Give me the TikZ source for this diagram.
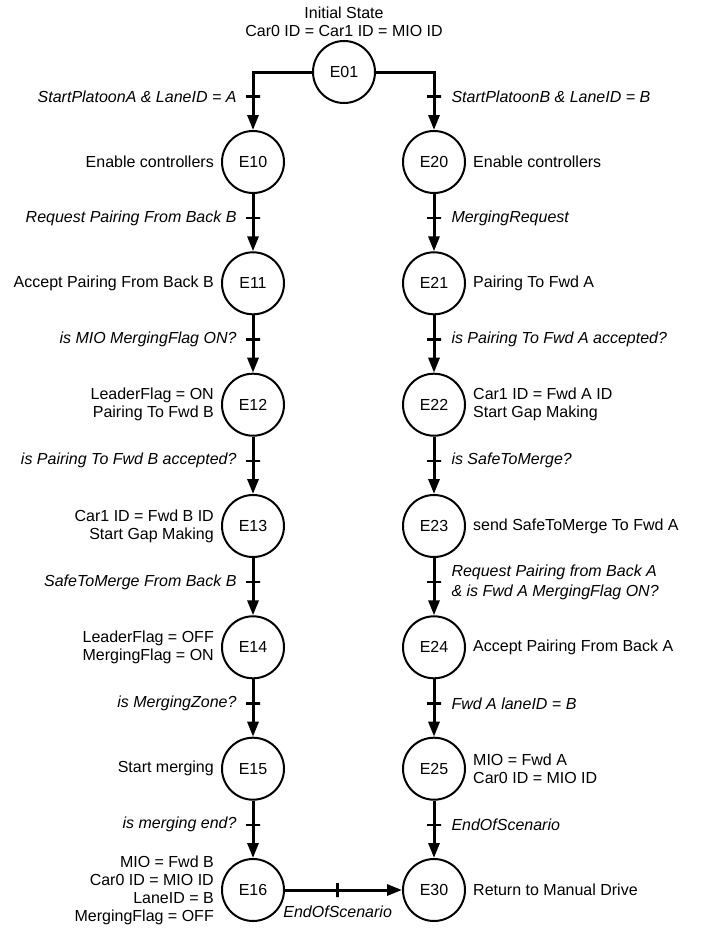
\documentclass[tikz,border=0pt]{standalone}
\usepackage{fontspec}
\setmainfont{Liberation Sans}
\usetikzlibrary{arrows.meta}
\begin{document}
\begin{tikzpicture}[x=1bp,y=-1bp,
  every node/.style={font=\fontsize{16bp}{18bp}\selectfont},
  st/.style={circle,draw,line width=2bp,minimum size=62bp,inner sep=0},
  sl/.style={inner sep=0,align=right},
  sr/.style={inner sep=0,align=left},
  label distance=7bp,
  conn/.style={line width=3bp,-{Triangle[width=11bp,length=15bp]}},
  vtick/.style={draw,line width=2.5bp,minimum width=14bp,minimum height=0pt,inner sep=0,rectangle},
  htick/.style={draw,line width=2.5bp,minimum width=0pt,minimum height=14bp,inner sep=0,rectangle},
  condl/.style={font=\fontsize{16bp}{20bp}\selectfont\itshape,inner sep=0,anchor=east,xshift=-15bp,align=right},
  condr/.style={font=\fontsize{16bp}{20bp}\selectfont\itshape,inner sep=0,anchor=west,xshift=16bp,align=left}
]
\useasboundingbox (0,0) rectangle (702,929);

\node[align=center,inner sep=0] (title) at (344,22) {Initial State\\Car0 ID = Car1 ID = MIO ID};
\node[st] (e01) at (344,72) {E01};

% left column
\node[st,label={[sl]left:Enable controllers}] (e10) at (253,162) {E10};
\node[st,label={[sl]left:Accept Pairing From Back B}] (e11) at (253,283.3) {E11};
\node[st,label={[sl]left:{LeaderFlag = ON\\Pairing To Fwd B}}] (e12) at (253,404.7) {E12};
\node[st,label={[sl]left:{Car1 ID = Fwd B ID\\Start Gap Making}}] (e13) at (253,526) {E13};
\node[st,label={[sl]left:{LeaderFlag = OFF\\MergingFlag = ON}}] (e14) at (253,647.3) {E14};
\node[st,label={[sl]left:Start merging}] (e15) at (253,768.7) {E15};
\node[st,label={[sl]left:{MIO = Fwd B\\Car0 ID = MIO ID\\LaneID = B\\MergingFlag = OFF}}] (e16) at (253,890) {E16};

% right column
\node[st,label={[sr]right:Enable controllers}] (e20) at (434,162) {E20};
\node[st,label={[sr]right:Pairing To Fwd A}] (e21) at (434,283.3) {E21};
\node[st,label={[sr]right:{Car1 ID = Fwd A ID\\Start Gap Making}}] (e22) at (434,404.7) {E22};
\node[st,label={[sr]right:send SafeToMerge To Fwd A}] (e23) at (434,526) {E23};
\node[st,label={[sr]right:Accept Pairing From Back A}] (e24) at (434,647.3) {E24};
\node[st,label={[sr]right:{MIO = Fwd A\\Car0 ID = MIO ID}}] (e25) at (434,768.7) {E25};
\node[st,label={[sr]right:Return to Manual Drive}] (e30) at (434,890) {E30};

% branches from E01
\draw[conn] (e01) -| node[vtick,pos=0.71]{} node[condl,pos=0.71]{StartPlatoonA \& LaneID = A} (e10);
\draw[conn] (e01) -| node[vtick,pos=0.71]{} node[condr,pos=0.71]{StartPlatoonB \& LaneID = B} (e20);

% left transitions
\draw[conn] (e10) -- node[vtick,pos=0.42]{} node[condl,pos=0.42]{Request Pairing From Back B} (e11);
\draw[conn] (e11) -- node[vtick,pos=0.42]{} node[condl,pos=0.42]{is MIO MergingFlag ON?} (e12);
\draw[conn] (e12) -- node[vtick,pos=0.42]{} node[condl,pos=0.42]{is Pairing To Fwd B accepted?} (e13);
\draw[conn] (e13) -- node[vtick,pos=0.42]{} node[condl,pos=0.42]{SafeToMerge From Back B} (e14);
\draw[conn] (e14) -- node[vtick,pos=0.42]{} node[condl,pos=0.42]{is MergingZone?} (e15);
\draw[conn] (e15) -- node[vtick,pos=0.42]{} node[condl,pos=0.42]{is merging end?} (e16);

% right transitions
\draw[conn] (e20) -- node[vtick,pos=0.42]{} node[condr,pos=0.42]{MergingRequest} (e21);
\draw[conn] (e21) -- node[vtick,pos=0.42]{} node[condr,pos=0.42]{is Pairing To Fwd A accepted?} (e22);
\draw[conn] (e22) -- node[vtick,pos=0.42]{} node[condr,pos=0.42]{is SafeToMerge?} (e23);
\draw[conn] (e23) -- node[vtick,pos=0.42]{} node[condr,pos=0.42]{Request Pairing from Back A\\\& is Fwd A MergingFlag ON?} (e24);
\draw[conn] (e24) -- node[vtick,pos=0.42]{} node[condr,pos=0.42]{Fwd A laneID = B} (e25);
\draw[conn] (e25) -- node[vtick,pos=0.42]{} node[condr,pos=0.42]{EndOfScenario} (e30);

% bottom
\draw[conn] (e16) -- node[htick,pos=0.45]{} node[pos=0.45,yshift=-22bp,inner sep=0,font=\fontsize{16bp}{18bp}\selectfont\itshape]{EndOfScenario} (e30);
\end{tikzpicture}
\end{document}
